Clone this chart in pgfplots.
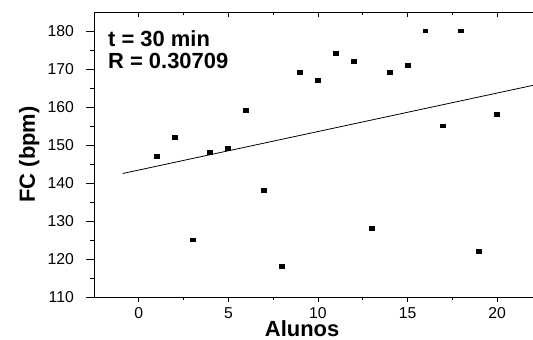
\documentclass[border=0pt]{standalone}
\usepackage{pgfplots}
\pgfplotsset{compat=1.18}
\usepackage{fontspec}
\setmainfont{Liberation Sans}

\pgfplotstableread{
x y
1 147
2 152
3 125
4 148
5 149
6 159
7 138
8 118
9 169
10 167
11 174
12 172
13 128
14 169
15 171
16 180
17 155
18 180
19 122
20 158
}\fcdata

\pgfplotsset{common/.style={
  scale only axis, width=439bp, height=285bp,
  xmin=-2.5, xmax=22, ymin=110, ymax=185,
  axis line style={line width=0.9bp, black},
  every tick/.style={line width=0.9bp, black},
  at={(0,0)}, anchor=south west,
}}

\newcommand\tickfont{\fontsize{15.8}{15.8}\selectfont}

\begin{document}
\begin{tikzpicture}
\path[use as bounding box] (-94bp,-43bp) rectangle (439bp,297bp);

% top ticks (inside)
\begin{axis}[common,
  axis x line*=top, axis y line=none,
  tick align=inside,
  xtick={0,5,...,20}, minor x tick num=1, xticklabels={},
  major tick length=5bp, minor tick length=3bp]
\end{axis}

% left ticks (outside)
\begin{axis}[common,
  axis y line*=left, axis x line=none,
  tick align=outside,
  ytick={110,120,...,180}, minor y tick num=1, yticklabels={},
  major tick length=8bp, minor tick length=4bp]
\end{axis}

% main axis
\begin{axis}[common,
  axis x line*=bottom, axis y line*=left,
  tick align=outside,
  xtick={0,5,...,20}, minor x tick num=1,
  ytick={110,120,...,180}, minor y tick num=0,
  ytick style={draw=none},
  major tick length=5bp, minor tick length=3bp,
  /pgf/number format/assume math mode=true,
  xticklabel={\tickfont\pgfmathprintnumber{\tick}},
  yticklabel={\tickfont\pgfmathprintnumber{\tick}},
  yticklabel style={anchor=east, inner sep=0pt, xshift=-15bp},
  xticklabel style={anchor=north, inner sep=0pt, yshift=-5bp},
  xlabel={Alunos}, ylabel={FC (bpm)},
  label style={font=\fontsize{22}{22}\selectfont\bfseries},
  xlabel style={at={(axis description cs:0.474,-0.1390)}, anchor=base},
  ylabel style={at={(axis description cs:-0.1344,0.5)}, anchor=base},
  clip=false]
\addplot[black, line width=0.8bp] coordinates {(-0.9,142.5) (22,165.7)};
\addplot[only marks, mark=square*, mark size=1.9bp,
  mark options={xscale=1.3, fill=black, draw=black, line width=0pt}] table[x=x,y=y] {\fcdata};
\node[anchor=base west, inner sep=0pt, font=\fontsize{22}{22}\selectfont\bfseries]
  at (axis description cs:0.0319,0.878) {t = 30 min};
\node[anchor=base west, inner sep=0pt, font=\fontsize{22}{22}\selectfont\bfseries]
  at (axis description cs:0.0319,0.8025) {R = 0.30709};
\end{axis}
\end{tikzpicture}
\end{document}
